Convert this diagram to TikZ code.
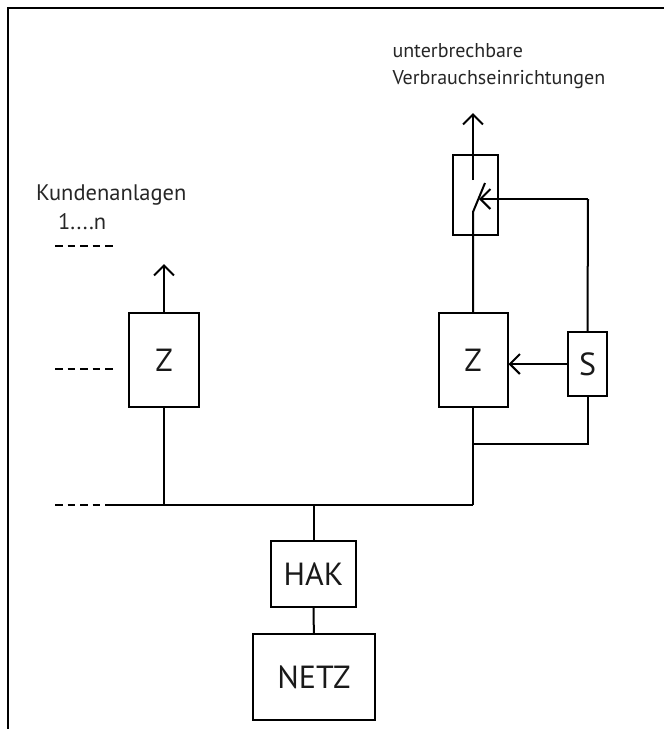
\documentclass[tikz,border=0pt]{standalone}
\usepackage{fontspec}
\setmainfont{PT Sans}
\usetikzlibrary{arrows.meta}
\begin{document}
\begin{tikzpicture}[x=1pt,y=-1pt,
  line width=2pt,
  box/.style={draw,line width=2pt,inner sep=0pt,font=\fontsize{32}{32}\selectfont,text=black!90},
  lbl/.style={anchor=base west,inner sep=0pt,font=\fontsize{20}{20}\selectfont,text=black!85},
  lblk/.style={lbl,font=\fontsize{22.5}{22.5}\selectfont},
  arr/.style={-{Straight Barb[length=10pt,width=20pt]}},
  dsh/.style={dash pattern=on 7.5pt off 5pt}
]
\useasboundingbox (0,0) rectangle (664,729);
% frame
\coordinate (fb) at (8,729);
\coordinate (ftl) at (8,8);
\coordinate (ftr) at (664,8);
\draw (fb) -- (ftl) -- (ftr);
% boxes
\node[box,minimum width=122pt,minimum height=86pt] (netz) at (314,677) {NETZ};
\node[box,minimum width=85pt,minimum height=66pt] (hak) at (313.5,574) {HAK};
\node[box,minimum width=70pt,minimum height=94pt] (z1) at (164,360) {Z};
\node[box,minimum width=69pt,minimum height=94pt] (z2) at (473,360) {Z};
\node[box,minimum width=39pt,minimum height=64pt] (s) at (587.5,364) {S};
\node[box,minimum width=45pt,minimum height=80pt] (sw) at (475.5,195) {};
% labels
\node[lblk] (kund) at (35,200.5) {Kundenanlagen};
\node[lblk] (eins) at (57,229) {1....n};
\node[lbl] (unt) at (391.5,57) {unterbrechbare};
\node[lbl] (verb) at (391.5,84) {Verbrauchseinrichtungen};
% coordinates
\coordinate (busL) at (113,505);
\coordinate (busR) at (473,505);
\coordinate (d1a) at (55,246);  \coordinate (d1b) at (113,246);
\coordinate (d2a) at (55,369);  \coordinate (d2b) at (113,369);
\coordinate (d3a) at (55,505);
\coordinate (up1) at (164,264);
\coordinate (up2) at (473,113);
\coordinate (swb) at (473,212);
\coordinate (swt) at (485,183);
\coordinate (swc) at (473,180);
\coordinate (swa) at (479,199);
\coordinate (ctl) at (588,199);
\coordinate (loopL) at (473,444);
% connectors
\draw (hak) -- (netz);
\draw (hak.north) -- (hak.north |- busL);
\draw (busL) -- (busR);
\draw[dsh] (d3a) -- (busL);
\draw[dsh] (d1a) -- (d1b);
\draw[dsh] (d2a) -- (d2b);
\draw (z1.south) -- (z1.south |- busL);
\draw[arr] (z1.north) -- (up1);
\draw (z2.south) -- (busR);
\draw (z2.north) -- (swb) -- (swt);
\draw[arr] (swc) -- (up2);
\draw (s.north) -- (ctl);
\draw[arr] (ctl) -- (swa);
\draw[arr] (s.west) -- (z2.east |- s.west);
\draw (s.south) |- (loopL);
\end{tikzpicture}
\end{document}
